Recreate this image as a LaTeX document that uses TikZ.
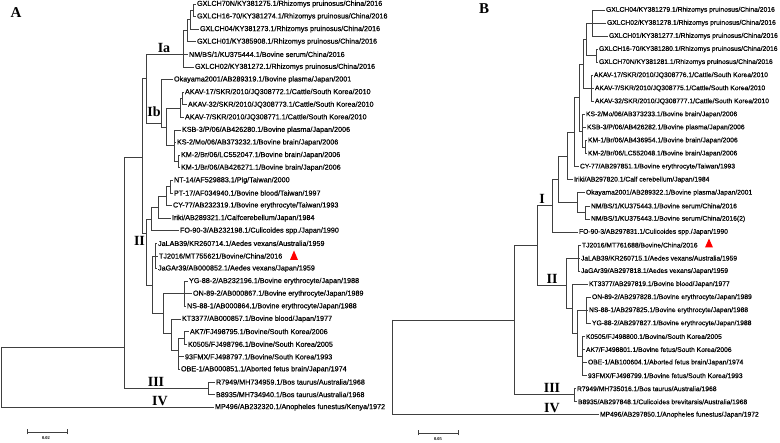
\documentclass[tikz,border=0pt]{standalone}
\usepackage{fontspec}
\setmainfont{Liberation Sans}
\newfontfamily\leaffont[FakeBold=0.3]{Liberation Sans}
\newfontfamily\serifb{Liberation Serif}
\newcommand\lfA[4]{\node[leafA] (#1) at (#2,#3) {#4};}
\newcommand\lfB[4]{\node[leafB] (#1) at (#2,#3) {#4};}
\newcommand\edges[2]{\foreach \ch in {#2}{\draw[branch] (#1) |- (\ch);}}
\begin{document}
\begin{tikzpicture}[x=1pt,y=-1pt,
  branch/.style={draw=black!75,line width=0.75pt},
  leafA/.style={anchor=west,inner xsep=1.5pt,inner ysep=0.3pt,outer sep=0pt,font=\leaffont\fontsize{7.2}{7}\selectfont},
  leafB/.style={anchor=west,inner xsep=1.5pt,inner ysep=0.3pt,outer sep=0pt,font=\leaffont\fontsize{6.75}{7}\selectfont},
  clade/.style={font=\serifb\bfseries\fontsize{14}{14}\selectfont,inner sep=0pt},
  panel/.style={font=\serifb\bfseries\fontsize{15}{15}\selectfont,inner sep=0pt},
  scaletxt/.style={font=\serifb\bfseries\fontsize{4.5}{5}\selectfont,inner sep=0pt},
  redtri/.style={fill=red}]
\fill[white] (0,0) rectangle (780,443);
\useasboundingbox (0,0) rectangle (780,443);

% ---------------- Panel A ----------------
\node[panel] (labA) at (16,13) {A};
\lfA{A1}{195.5}{4}{GXLCH70N/KY381275.1/Rhizomys pruinosus/China/2016}
\lfA{A2}{195.5}{16.6}{GXLCH16-70/KY381274.1/Rhizomys pruinosus/China/2016}
\lfA{A3}{198.5}{29.2}{GXLCH04/KY381273.1/Rhizomys pruinosus/China/2016}
\lfA{A4}{195.5}{41.8}{GXLCH01/KY385908.1/Rhizomys pruinosus/China/2016}
\lfA{A5}{187.5}{54.4}{NM/BS/1/KU375444.1/Bovine serum/China/2016}
\lfA{A6}{193.5}{67}{GXLCH02/KY381272.1/Rhizomys pruinosus/China/2016}
\lfA{A7}{172.5}{79.6}{Okayama2001/AB289319.1/Bovine plasma/Japan/2001}
\lfA{A8}{183.5}{92.2}{AKAV-17/SKR/2010/JQ308772.1/Cattle/South Korea/2010}
\lfA{A9}{186.5}{104.8}{AKAV-32/SKR/2010/JQ308773.1/Cattle/South Korea/2010}
\lfA{A10}{183.5}{117.4}{AKAV-7/SKR/2010/JQ308771.1/Cattle/South Korea/2010}
\lfA{A11}{180.5}{130}{KSB-3/P/06/AB426280.1/Bovine plasma/Japan/2006}
\lfA{A12}{175.5}{142.6}{KS-2/Mo/06/AB373232.1/Bovine brain/Japan/2006}
\lfA{A13}{179.5}{155.2}{KM-2/Br/06/LC552047.1/Bovine brain/Japan/2006}
\lfA{A14}{179.5}{167.8}{KM-1/Br/06/AB426271.1/Bovine brain/Japan/2006}
\lfA{A15}{172.5}{180.4}{NT-14/AF529883.1/Pig/Taiwan/2000}
\lfA{A16}{172.5}{193}{PT-17/AF034940.1/Bovine blood/Taiwan/1997}
\lfA{A17}{171.5}{205.6}{CY-77/AB232319.1/Bovine erythrocyte/Taiwan/1993}
\lfA{A18}{170.5}{218.2}{Iriki/AB289321.1/Calfcerebellum/Japan/1984}
\lfA{A19}{178.5}{230.8}{FO-90-3/AB232198.1/Culicoides spp./Japan/1990}
\lfA{A20}{156.5}{243.4}{JaLAB39/KR260714.1/Aedes vexans/Australia/1959}
\lfA{A21}{157.5}{256}{TJ2016/MT755621/Bovine/China/2016}
\lfA{A22}{156.5}{268.6}{JaGAr39/AB000852.1/Aedes vexans/Japan/1959}
\lfA{A23}{187.5}{281.2}{YG-88-2/AB232196.1/Bovine erythrocyte/Japan/1988}
\lfA{A24}{191.5}{293.8}{ON-89-2/AB000867.1/Bovine erythrocyte/Japan/1989}
\lfA{A25}{185.5}{306.4}{NS-88-1/AB000864.1/Bovine erythrocyte/Japan/1988}
\lfA{A26}{180.5}{319}{KT3377/AB000857.1/Bovine blood/Japan/1977}
\lfA{A27}{188.5}{331.6}{AK7/FJ498795.1/Bovine/South Korea/2006}
\lfA{A28}{186.5}{344.2}{K0505/FJ498796.1/Bovine/South Korea/2005}
\lfA{A29}{183.5}{356.8}{93FMX/FJ498797.1/Bovine/South Korea/1993}
\lfA{A30}{179.5}{369.4}{OBE-1/AB000851.1/Aborted fetus brain/Japan/1974}
\lfA{A31}{214.5}{382}{R7949/MH734959.1/Bos taurus/Australia/1968}
\lfA{A32}{214.5}{394.6}{B8935/MH734940.1/Bos taurus/Australia/1968}
\lfA{A33}{213.5}{407.2}{MP496/AB232320.1/Anopheles funestus/Kenya/1972}

\coordinate (a12) at (193,10.3);
\coordinate (a123) at (190.5,19.8);
\coordinate (a1234) at (187.5,30.8);
\coordinate (aIa) at (183,54.4);
\coordinate (a89) at (182,98.5);
\coordinate (a810) at (180,108);
\coordinate (a1314) at (178.5,161.5);
\coordinate (aKS) at (174,145);
\coordinate (aAKKS) at (166,127);
\coordinate (aIb) at (161,123);
\coordinate (aI) at (146,78);
\coordinate (a1516) at (170,186.7);
\coordinate (a1517) at (166,196);
\coordinate (a1518) at (158,207);
\coordinate (aSubA) at (151,219);
\coordinate (aJa) at (155,256);
\coordinate (aYG) at (184.5,293.8);
\coordinate (a2728) at (184,338);
\coordinate (aKor) at (178,350);
\coordinate (aKT) at (171,333);
\coordinate (aJK) at (163,313);
\coordinate (aSubB) at (152,285);
\coordinate (aII) at (146,233);
\coordinate (aI2) at (142,157);
\coordinate (aIII) at (208,388);
\coordinate (aTop) at (124,347);
\coordinate (aRoot) at (1.5,347);

\edges{a12}{A1,A2}
\edges{a123}{a12,A3}
\edges{a1234}{a123,A4}
\edges{aIa}{a1234,A5,A6}
\edges{a89}{A8,A9}
\edges{a810}{a89,A10}
\edges{a1314}{A13,A14}
\edges{aKS}{A11,A12,a1314}
\edges{aAKKS}{a810,aKS}
\edges{aIb}{A7,aAKKS}
\edges{aI}{aIa,aIb}
\edges{a1516}{A15,A16}
\edges{a1517}{a1516,A17}
\edges{a1518}{a1517,A18}
\edges{aSubA}{a1518,A19}
\edges{aJa}{A20,A21,A22}
\edges{aYG}{A23,A24,A25}
\edges{a2728}{A27,A28}
\edges{aKor}{a2728,A29,A30}
\edges{aKT}{A26,aKor}
\edges{aJK}{aYG,aKT}
\edges{aSubB}{aJa,aJK}
\edges{aII}{aSubA,aSubB}
\edges{aI2}{aI,aII}
\edges{aIII}{A31,A32}
\edges{aTop}{aI2,aIII}
\edges{aRoot}{aTop,A33}

\node[clade] (cIa) at (164,48) {Ia};
\node[clade] (cIb) at (154,112) {Ib};
\node[clade] (cII) at (139.5,241) {II};
\node[clade] (cIII) at (156,382) {III};
\node[clade] (cIV) at (160,401) {IV};

\fill[redtri] (290,260) -- (298,260) -- (294,250.5) -- cycle;

\coordinate (sA1) at (27,432);
\coordinate (sA2) at (67,432);
\draw[branch,line width=0.6pt] (sA1) -- (sA2);
\draw[branch,line width=0.6pt] ([yshift=-2.5pt]sA1) -- ([yshift=2.5pt]sA1);
\draw[branch,line width=0.6pt] ([yshift=-2.5pt]sA2) -- ([yshift=2.5pt]sA2);
\node[scaletxt] (tA) at (46,438.5) {0.02};

% ---------------- Panel B ----------------
\node[panel] (labB) at (484,8.5) {B};
\lfB{B1}{604.5}{10}{GXLCH04/KY381279.1/Rhizomys pruinosus/China/2016}
\lfB{B2}{605.5}{23.06}{GXLCH02/KY381278.1/Rhizomys pruinosus/China/2016}
\lfB{B3}{607.5}{36.12}{GXLCH01/KY381277.1/Rhizomys pruinosus/China/2016}
\lfB{B4}{597.5}{49.18}{GXLCH16-70/KY381280.1/Rhizomys pruinosus/China/2016}
\lfB{B5}{597.5}{62.24}{GXLCH70N/KY381281.1/Rhizomys pruinosus/China/2016}
\lfB{B6}{592.5}{75.3}{AKAV-17/SKR/2010/JQ308776.1/Cattle/South Korea/2010}
\lfB{B7}{593.5}{88.36}{AKAV-7/SKR/2010/JQ308775.1/Cattle/South Korea/2010}
\lfB{B8}{593.5}{101.42}{AKAV-32/SKR/2010/JQ308777.1/Cattle/South Korea/2010}
\lfB{B9}{584.5}{114.48}{KS-2/Mo/06/AB373233.1/Bovine brain/Japan/2006}
\lfB{B10}{585.5}{127.54}{KSB-3/P/06/AB426282.1/Bovine plasma/Japan/2006}
\lfB{B11}{586.5}{140.6}{KM-1/Br/06/AB436954.1/Bovine brain/Japan/2006}
\lfB{B12}{586.5}{153.66}{KM-2/Br/06/LC552048.1/Bovine brain/Japan/2006}
\lfB{B13}{578.5}{166.72}{CY-77/AB297851.1/Bovine erythrocyte/Taiwan/1993}
\lfB{B14}{572.5}{179.78}{Iriki/AB297820.1/Calf cerebellum/Japan/1984}
\lfB{B15}{584.5}{192.84}{Okayama2001/AB289322.1/Bovine plasma/Japan/2001}
\lfB{B16}{589.5}{205.9}{NM/BS/1/KU375443.1/Bovine serum/China/2016}
\lfB{B17}{589.5}{218.96}{NM/BS/1/KU375443.1/Bovine serum/China/2016(2)}
\lfB{B18}{577.5}{232.02}{FO-90-3/AB297831.1/Culicoides spp./Japan/1990}
\lfB{B19}{580.5}{245.08}{TJ2016/MT761688/Bovine/China/2016}
\lfB{B20}{579.5}{258.14}{JaLAB39/KR260715.1/Aedes vexans/Australia/1959}
\lfB{B21}{579.5}{271.2}{JaGAr39/AB297818.1/Aedes vexans/Japan/1959}
\lfB{B22}{587.5}{284.26}{KT3377/AB297819.1/Bovine blood/Japan/1977}
\lfB{B23}{590.5}{297.32}{ON-89-2/AB297828.1/Bovine erythrocyte/Japan/1989}
\lfB{B24}{587.5}{310.38}{NS-88-1/AB297825.1/Bovine erythrocyte/Japan/1988}
\lfB{B25}{590.5}{323.44}{YG-88-2/AB297827.1/Bovine erythrocyte/Japan/1988}
\lfB{B26}{584.5}{336.5}{K0505/FJ498800.1/Bovine/South Korea/2005}
\lfB{B27}{584.5}{349.56}{AK7/FJ498801.1/Bovine fetus/South Korea/2006}
\lfB{B28}{586.5}{362.62}{OBE-1/AB100604.1/Aborted fetus brain/Japan/1974}
\lfB{B29}{586.5}{375.68}{93FMX/FJ498799.1/Bovine fetus/South Korea/1993}
\lfB{B30}{575.5}{388.74}{R7949/MH735016.1/Bos taurus/Australia/1968}
\lfB{B31}{576.5}{401.8}{B8935/AB297848.1/Culicoides brevitarsis/Australia/1968}
\lfB{B32}{598.5}{414.86}{MP496/AB297850.1/Anopheles funestus/Japan/1972}

\coordinate (b123) at (592,23.06);
\coordinate (b45) at (596,55.7);
\coordinate (bGX) at (586,39.4);
\coordinate (bAK) at (591,88.36);
\coordinate (bGXAK) at (583,64);
\coordinate (b1112) at (585,147.1);
\coordinate (bKS) at (582,131);
\coordinate (bGXAKKS) at (579,97);
\coordinate (bCY) at (574,132);
\coordinate (bIr) at (567,156);
\coordinate (bNM) at (585,212.4);
\coordinate (bOk) at (577,202.6);
\coordinate (bI1) at (558,179);
\coordinate (bI) at (552,205.6);
\coordinate (bJa) at (578.5,258.14);
\coordinate (bON) at (586,310.38);
\coordinate (bKor) at (582,356);
\coordinate (bONK) at (577,333);
\coordinate (bKT) at (572,308);
\coordinate (bII) at (566,285);
\coordinate (bI2) at (537,245);
\coordinate (bIII) at (574,394);
\coordinate (bTop) at (514,320);
\coordinate (bRoot) at (392,320);

\edges{b123}{B1,B2,B3}
\edges{b45}{B4,B5}
\edges{bGX}{b123,b45}
\edges{bAK}{B6,B7,B8}
\edges{bGXAK}{bGX,bAK}
\edges{b1112}{B11,B12}
\edges{bKS}{B9,B10,b1112}
\edges{bGXAKKS}{bGXAK,bKS}
\edges{bCY}{bGXAKKS,B13}
\edges{bIr}{bCY,B14}
\edges{bNM}{B16,B17}
\edges{bOk}{B15,bNM}
\edges{bI1}{bIr,bOk}
\edges{bI}{bI1,B18}
\edges{bJa}{B19,B20,B21}
\edges{bON}{B23,B24,B25}
\edges{bKor}{B26,B27,B28,B29}
\edges{bONK}{bON,bKor}
\edges{bKT}{B22,bONK}
\edges{bII}{bJa,bKT}
\edges{bI2}{bI,bII}
\edges{bIII}{B30,B31}
\edges{bTop}{bI2,bIII}
\edges{bRoot}{bTop,B32}

\node[clade] (dI) at (542,199) {I};
\node[clade] (dII) at (552,279) {II};
\node[clade] (dIII) at (552,387.5) {III};
\node[clade] (dIV) at (552,408.5) {IV};

\fill[redtri] (705,247.5) -- (713,247.5) -- (709,238.5) -- cycle;

\coordinate (sB1) at (418,433);
\coordinate (sB2) at (458,433);
\draw[branch,line width=0.6pt] (sB1) -- (sB2);
\draw[branch,line width=0.6pt] ([yshift=-2.5pt]sB1) -- ([yshift=2.5pt]sB1);
\draw[branch,line width=0.6pt] ([yshift=-2.5pt]sB2) -- ([yshift=2.5pt]sB2);
\node[scaletxt] (tB) at (438,439.5) {0.05};
\end{tikzpicture}
\end{document}
